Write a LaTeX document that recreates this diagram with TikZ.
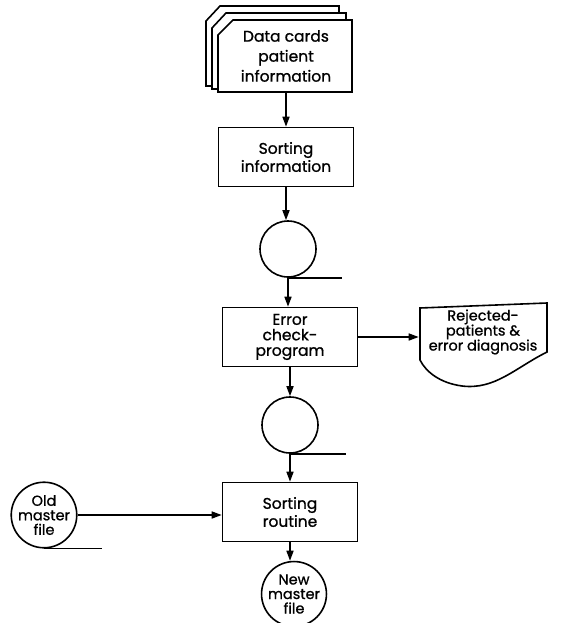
\documentclass[tikz,border=0pt]{standalone}
\usepackage{fontspec}
\setmainfont{Poppins}[FakeBold=0.9]
\usetikzlibrary{arrows.meta}

\begin{document}
\begin{tikzpicture}[x=1pt, y=-1pt, line width=1.6pt,
    box/.style={draw, rectangle, minimum width=135pt, minimum height=59pt, inner sep=0pt, align=center, font=\fontsize{15.5}{18}\selectfont},
    tape/.style={draw, circle, minimum size=56pt, inner sep=0pt},
    disk/.style={draw, circle, minimum size=54pt, inner sep=0pt, align=center, font=\fontsize{14.5}{14.5}\selectfont},
    flow/.style={-{Triangle[length=10pt,width=7pt]}}]

    \useasboundingbox (0,0) rectangle (565,623);

    % Cards (back to front)
    \draw[fill=white] (206,21) -- (220,6) -- (339,6) -- (339,86) -- (206,86) -- cycle;
    \draw[fill=white] (212,28) -- (226,13) -- (346,13) -- (346,89) -- (212,89) -- cycle;
    \draw[fill=white] (218,35) -- (233,20) -- (352,20) -- (352,92) -- (218,92) -- cycle;

    % Reject document
    \draw (420,308) -- (547,303) -- (547,352) .. controls (515,368) and (495,390) .. (462,386) .. controls (440,383) and (426,372) .. (420,360) -- cycle;

    % Nodes
    \node[box, draw=none, minimum height=72pt, font=\fontsize{15.5}{20}\selectfont] (cards) at (286,56) {Data cards\\patient\\information};
    \node[box] (sortinfo) at (286,157) {Sorting\\information};
    \node[tape] (tape1) at (288,249) {};
    \node[box, font=\fontsize{15.5}{15.5}\selectfont] (errcheck) at (290,337) {Error\\check-\\program};
    \node[box, draw=none, minimum width=127pt, minimum height=50pt, font=\fontsize{14.5}{15}\selectfont] (reject) at (483,332) {Rejected-\\patients \&\\error diagnosis};
    \node[tape] (tape2) at (290,425) {};
    \node[box] (routine) at (290,512) {Sorting\\routine};
    \node[disk] (oldmaster) at (44,515) {Old\\master\\file};
    \node[disk] (newmaster) at (294,594) {New\\master\\file};

    % Tape tails
    \draw (tape1.south) -- ++(54,0);
    \draw (tape2.south) -- ++(56,0);
    \draw (oldmaster.south) -- ++(58,0);
    \draw (newmaster.south) -- ++(49,0);

    % Arrows
    \draw[flow] (cards.south) -- (cards.south |- sortinfo.north);
    \draw[flow] (sortinfo.south) -- (sortinfo.south |- tape1.north);
    \draw[flow] (tape1.south) -- (tape1.south |- errcheck.north);
    \draw[flow] (errcheck.east) -- (errcheck.east -| reject.west);
    \draw[flow] (errcheck.south) -- (errcheck.south |- tape2.north);
    \draw[flow] (tape2.south) -- (tape2.south |- routine.north);
    \draw[flow] (oldmaster.east) -- (oldmaster.east -| routine.west);
    \draw[flow] (routine.south) -- (routine.south |- newmaster.north);

\end{tikzpicture}
\end{document}
